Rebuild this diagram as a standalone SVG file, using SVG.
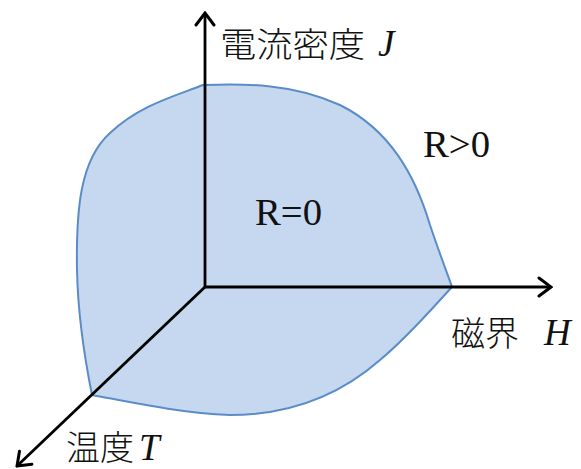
<svg xmlns="http://www.w3.org/2000/svg" width="581" height="469" viewBox="0 0 581 469">
<style>
.ax{stroke:#000;stroke-width:2.8;fill:none}
.jp{font-family:"Noto Sans CJK JP","Noto Sans CJK SC",sans-serif;font-weight:300;font-size:34px;fill:#111}
.it{font-family:"Liberation Serif",serif;font-style:italic;font-size:37px;fill:#111}
.lb{font-family:"Liberation Serif",serif;font-size:37px;fill:#111}
</style>
<defs>
<marker id="ah" markerUnits="userSpaceOnUse" viewBox="-14 -11 16 22" markerWidth="16" markerHeight="22" refX="0" refY="0" orient="auto">
<polyline points="-12,-9 0,0 -12,9" fill="none" stroke="#000" stroke-width="3" stroke-linecap="round" stroke-linejoin="miter"/>
</marker>
</defs>
<g id="region">
<path d="M203,85 C240,84 290,82 340,105 C390,130 415,175 430,225 C440,255 448,275 452,287 C435,305 410,335 380,360 C340,395 290,415 230,415 C180,413 130,402 92,395 C85,360 78,320 77,270 C76,210 80,160 110,133 C140,105 175,96 203,85 Z" fill="#c6d8ef" stroke="#5b8cc8" stroke-width="2"/>
</g>
<g id="connectors">
<line class="ax" x1="205" y1="288" x2="205" y2="13" marker-end="url(#ah)"/>
<line class="ax" x1="204" y1="287" x2="551" y2="287" marker-end="url(#ah)"/>
<line class="ax" x1="206" y1="286" x2="17" y2="466" marker-end="url(#ah)"/>
</g>
<g id="label-J">
<text class="jp" x="220" y="57" textLength="145" lengthAdjust="spacingAndGlyphs">電流密度</text>
<text class="it" x="378" y="56">J</text>
</g>
<g id="label-H">
<text class="jp" x="451" y="346">磁界</text>
<text class="it" x="544" y="345">H</text>
</g>
<g id="label-T">
<text class="jp" x="66" y="460">温度</text>
<text class="it" x="139" y="460">T</text>
</g>
<g id="label-R0">
<text class="lb" x="255" y="225" textLength="67" lengthAdjust="spacingAndGlyphs">R=0</text>
</g>
<g id="label-Rpos">
<text class="lb" x="423" y="157" textLength="67" lengthAdjust="spacingAndGlyphs">R&gt;0</text>
</g>
</svg>
